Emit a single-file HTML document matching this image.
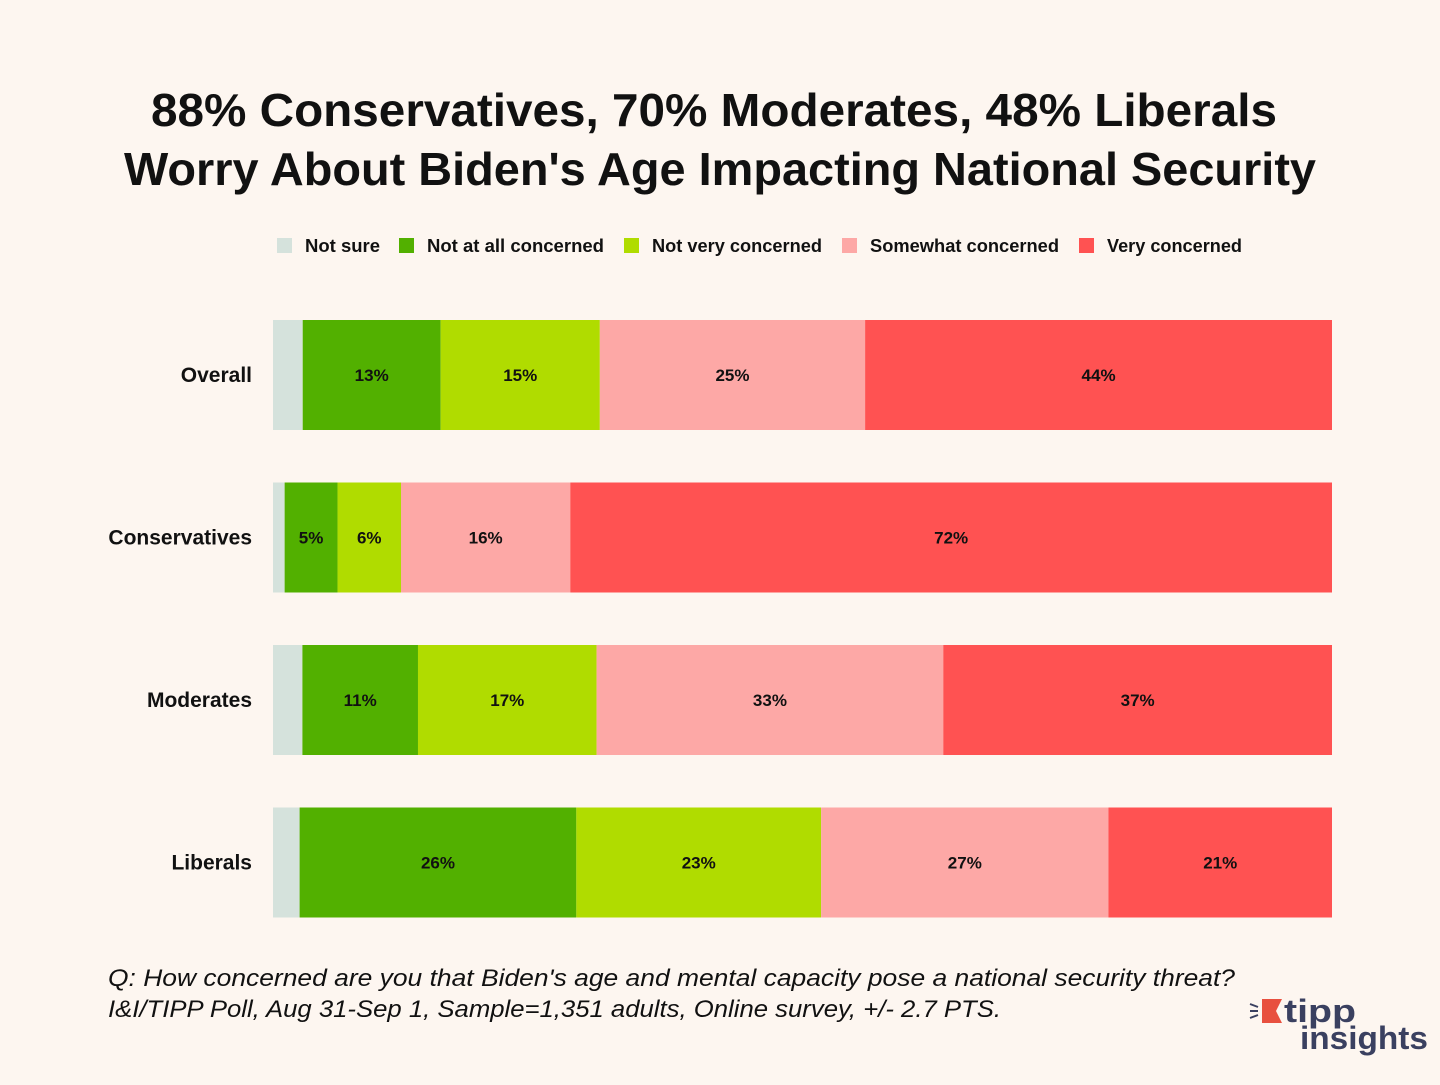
<!DOCTYPE html>
<html><head><meta charset="utf-8"><style>
body{margin:0;background:#fdf6f0;}
svg text{font-family:"Liberation Sans",sans-serif;}
</style></head><body>
<svg id="chart" width="1440" height="1080" viewBox="0 0 1440 1080" xmlns="http://www.w3.org/2000/svg">
<rect width="1440" height="1080" fill="#fdf6f0"/>
<text x="151" y="126" textLength="1126" lengthAdjust="spacingAndGlyphs" font-size="46" font-weight="bold" fill="#111">88% Conservatives, 70% Moderates, 48% Liberals</text>
<text x="124" y="185" textLength="1192" lengthAdjust="spacingAndGlyphs" font-size="46" font-weight="bold" fill="#111">Worry About Biden's Age Impacting National Security</text>
<g id="legend"></g>
<g id="bars"></g>
<text x="108" y="986" textLength="1127" lengthAdjust="spacingAndGlyphs" font-size="24" font-style="italic" fill="#111">Q: How concerned are you that Biden's age and mental capacity pose a national security threat?</text>
<text x="108" y="1017" textLength="893" lengthAdjust="spacingAndGlyphs" font-size="24" font-style="italic" fill="#111">I&amp;I/TIPP Poll, Aug 31-Sep 1, Sample=1,351 adults, Online survey, +/- 2.7 PTS.</text>
<g>
<polygon points="1262,999 1282,999 1276,1011 1282,1023 1262,1023" fill="#e8503f"/>
<line x1="1250" y1="1004" x2="1258" y2="1007" stroke="#3a4060" stroke-width="2"/>
<line x1="1250" y1="1011" x2="1258" y2="1011" stroke="#3a4060" stroke-width="2"/>
<line x1="1250" y1="1018" x2="1258" y2="1015" stroke="#3a4060" stroke-width="2"/>
<text x="1284" y="1022" textLength="72" lengthAdjust="spacingAndGlyphs" font-size="32" font-weight="bold" fill="#3a4060">tipp</text>
<text x="1300" y="1049" textLength="128" lengthAdjust="spacingAndGlyphs" font-size="32" font-weight="bold" fill="#3a4060">insights</text>
</g>
</svg>
<script>
const categories = ["Overall","Conservatives","Moderates","Liberals"];
const seriesNames = ["Not sure","Not at all concerned","Not very concerned","Somewhat concerned","Very concerned"];
const notSure = [2.8,1.1,2.8,2.5];
const notAtAll = [13,5,11,26];
const notVery = [15,6,17,23];
const somewhat = [25,16,33,27];
const very = [44,72,37,21];
const series = [notSure, notAtAll, notVery, somewhat, very];
const colors = ["#d5e2dc","#52b000","#b0dc00","#fda8a6","#ff5252"];
const showLabel = [false,true,true,true,true];
const NS = "http://www.w3.org/2000/svg";
const x0 = 273, x1 = 1332, y0 = 320, step = 162.5, barH = 110;
const bars = document.getElementById('bars');
function mk(tag, attrs, parent){const e=document.createElementNS(NS,tag);for(const k in attrs)e.setAttribute(k,attrs[k]);parent.appendChild(e);return e;}
categories.forEach((cat,i)=>{
  const total = series.reduce((s,arr)=>s+arr[i],0);
  const xs = v => (x1-x0)*v/total;
  const y = y0 + i*step;
  const lab = mk('text',{x:252,y:y+barH/2+7,'text-anchor':'end','font-size':21,'font-weight':'bold',fill:'#111'},bars);
  
  
  lab.textContent = cat;
  let cx = x0;
  series.forEach((arr,j)=>{
    const w = xs(arr[i]);
    const r = mk('rect',{x:cx,y:y,width:w,height:barH,fill:colors[j]},bars);
    
    
    if(showLabel[j]){
      const t = mk('text',{x:cx+w/2,y:y+barH/2+6,'text-anchor':'middle','font-size':17,'font-weight':'bold',fill:'#111'},bars);
      
      
      t.textContent = arr[i]+'%';
    }
    cx += w;
  });
});
const legend = document.getElementById('legend');
const legendX = [277,399,624,842,1079];
const legendW = [75,177,170,189,135];
seriesNames.forEach((n,j)=>{
  const g = mk('g',{},legend);
  
  
  mk('rect',{x:legendX[j],y:238,width:15,height:15,fill:colors[j]},g);
  const t = mk('text',{x:legendX[j]+28,y:252,'font-size':18,'font-weight':'bold',fill:'#111',textLength:legendW[j],lengthAdjust:'spacingAndGlyphs'},g);
  t.textContent = n;
});
</script>
</body></html>
